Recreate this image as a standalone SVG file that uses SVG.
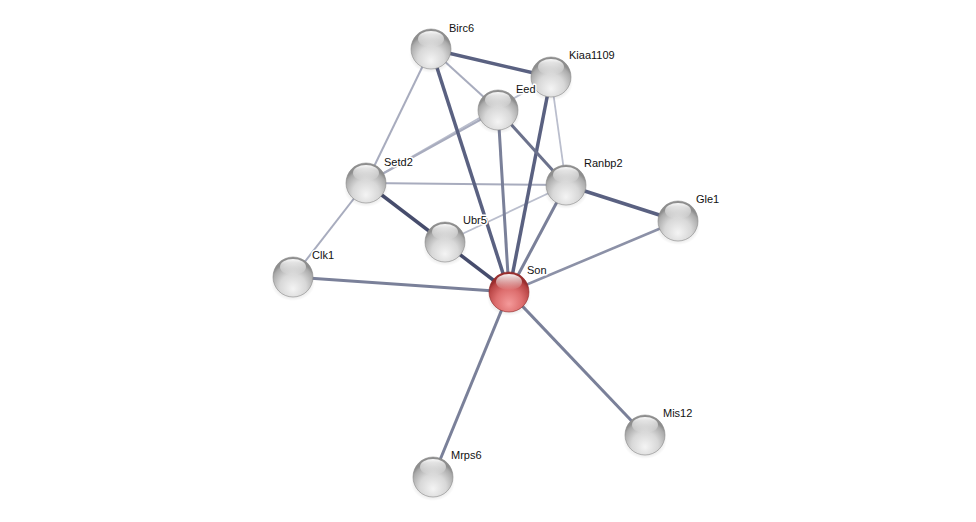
<svg xmlns="http://www.w3.org/2000/svg" width="976" height="522" viewBox="0 0 976 522">
<defs>
<radialGradient id="gBody" cx="50%" cy="72%" r="60%" fx="50%" fy="80%">
<stop offset="0" stop-color="#f4f4f4"/>
<stop offset="0.55" stop-color="#d8d8d8"/>
<stop offset="0.9" stop-color="#ababab"/>
<stop offset="1" stop-color="#8e8e8e"/>
</radialGradient>
<radialGradient id="rBody" cx="50%" cy="72%" r="60%" fx="50%" fy="80%">
<stop offset="0" stop-color="#f49a9a"/>
<stop offset="0.55" stop-color="#dd6e6e"/>
<stop offset="0.9" stop-color="#b84444"/>
<stop offset="1" stop-color="#9a2e2e"/>
</radialGradient>
<linearGradient id="hl" x1="0" y1="0" x2="0" y2="1">
<stop offset="0" stop-color="#ffffff" stop-opacity="0.95"/>
<stop offset="1" stop-color="#ffffff" stop-opacity="0"/>
</linearGradient>
<radialGradient id="sh" cx="50%" cy="50%" r="50%">
<stop offset="0" stop-color="#000" stop-opacity="0.35"/>
<stop offset="1" stop-color="#000" stop-opacity="0"/>
</radialGradient>
<g id="node">
<ellipse cx="0" cy="6" rx="22" ry="18" fill="url(#sh)"/>
<circle r="20" fill="url(#gBody)" stroke="#8a8a8a" stroke-width="0.6"/>
<ellipse cx="0" cy="-10" rx="13" ry="8" fill="url(#hl)"/>
</g>
<g id="rnode">
<ellipse cx="0" cy="6" rx="22" ry="18" fill="url(#sh)"/>
<circle r="20" fill="url(#rBody)" stroke="#8e2a2a" stroke-width="0.6"/>
<ellipse cx="0" cy="-10" rx="13" ry="8" fill="url(#hl)"/>
</g>
</defs>
<style>
.lbl{font-family:"Liberation Sans",Arial,sans-serif;font-size:11px;fill:#111;stroke:#ffffff;stroke-width:3;stroke-linejoin:round;paint-order:stroke}
line{stroke-linecap:butt}
.d{stroke:#5a6181;stroke-width:3.5}
.dd{stroke:#464c6c;stroke-width:3.5}
.m{stroke:#7a8099;stroke-width:3}
.l{stroke:#a8acbe;stroke-width:2}
.ll{stroke:#babecd;stroke-width:1.8}
</style>
<rect width="976" height="522" fill="#ffffff"/>
<g id="connectors">
<line class="ll" x1="366" y1="183" x2="551" y2="77"/>
<line class="l" x1="366" y1="183" x2="498" y2="110"/>
<line class="l" x1="431" y1="49" x2="498" y2="110"/>
<line class="l" x1="431" y1="49" x2="366" y2="183"/>
<line class="ll" x1="551" y1="77" x2="566" y2="185"/>
<line class="l" x1="366" y1="183" x2="566" y2="185"/>
<line class="l" x1="366" y1="183" x2="293" y2="277"/>
<line class="ll" x1="445" y1="242" x2="566" y2="185"/>
<line class="d" x1="431" y1="49" x2="551" y2="77"/>
<line class="d" x1="431" y1="49" x2="509" y2="292"/>
<line class="d" x1="551" y1="77" x2="509" y2="292"/>
<line class="m" x1="498" y1="110" x2="509" y2="292"/>
<line class="m" x1="498" y1="110" x2="566" y2="185" style="stroke:#6c728c"/>
<line class="dd" x1="366" y1="183" x2="509" y2="292"/>
<line class="m" x1="566" y1="185" x2="509" y2="292"/>
<line class="d" x1="566" y1="185" x2="678" y2="221"/>
<line class="m" x1="678" y1="221" x2="509" y2="292" style="stroke:#8c91a7;stroke-width:2.6"/>
<line class="m" x1="293" y1="277" x2="509" y2="292"/>
<line class="m" x1="509" y1="292" x2="645" y2="435"/>
<line class="m" x1="509" y1="292" x2="433" y2="477"/>
</g>
<g id="n-birc6"><use href="#node" x="431" y="49"/><text class="lbl" x="449" y="32">Birc6</text></g>
<g id="n-kiaa1109"><use href="#node" x="551" y="77"/><text class="lbl" x="569" y="59">Kiaa1109</text></g>
<g id="n-eed"><use href="#node" x="498" y="110"/><text class="lbl" x="516" y="93">Eed</text></g>
<g id="n-setd2"><use href="#node" x="366" y="183"/><text class="lbl" x="384" y="166">Setd2</text></g>
<g id="n-ranbp2"><use href="#node" x="566" y="185"/><text class="lbl" x="584" y="167">Ranbp2</text></g>
<g id="n-gle1"><use href="#node" x="678" y="221"/><text class="lbl" x="696" y="203">Gle1</text></g>
<g id="n-ubr5"><use href="#node" x="445" y="242"/><text class="lbl" x="463" y="224">Ubr5</text></g>
<g id="n-clk1"><use href="#node" x="293" y="277"/><text class="lbl" x="312" y="259">Clk1</text></g>
<g id="n-son"><use href="#rnode" x="509" y="292"/><text class="lbl" x="527" y="274">Son</text></g>
<g id="n-mis12"><use href="#node" x="645" y="435"/><text class="lbl" x="663" y="417">Mis12</text></g>
<g id="n-mrps6"><use href="#node" x="433" y="477"/><text class="lbl" x="451" y="459">Mrps6</text></g>
</svg>
